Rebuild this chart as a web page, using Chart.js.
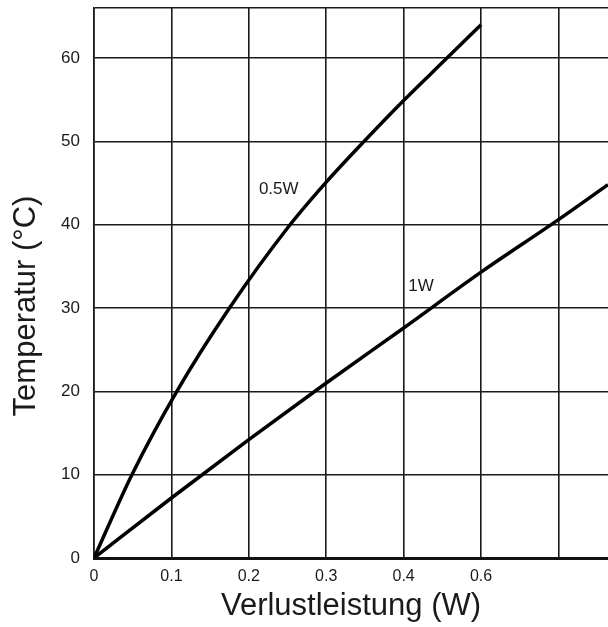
<!DOCTYPE html>
<html>
<head>
<meta charset="utf-8">
<script src="https://cdn.jsdelivr.net/npm/chart.js@4/dist/chart.umd.min.js"></script>
<style>
  html, body { margin: 0; padding: 0; background: #fff; overflow: hidden; }
  #wrap { width: 608px; height: 627px; }
</style>
</head>
<body>
<div id="wrap"><canvas id="tempChart" width="608" height="627"></canvas></div>
<script>
// ===== DATA =====
const xTickLabels = ["0", "0.1", "0.2", "0.3", "0.4", "0.6", "", ""];
const yTickLabels = ["0", "10", "20", "30", "40", "50", "60"];

// 0.5W curve
const halfWattX = [0, 0.049, 0.107, 0.175, 0.25, 0.3, 0.35, 0.4, 0.455, 0.5];
const halfWattT = [0, 10, 20, 30, 39.6, 45.1, 50.1, 54.9, 59.9, 64];

// 1W curve
const oneWattX = [0, 0.1, 0.2, 0.3, 0.4, 0.5, 0.6, 0.664];
const oneWattT = [0, 7.2, 14.2, 21, 27.6, 34.3, 40.6, 44.8];

const curveNames = ["0.5W", "1W"];
const curveLabelX = [0.213, 0.406];
const curveLabelY = [44.2, 32.6];

const FONT = "'Liberation Sans', Arial, Helvetica, sans-serif";
const INK = "#1a1a1a";

function toPoints(xs, ys) {
  return xs.map((x, i) => ({ x: x, y: ys[i] }));
}

// curve names + rotated y title drawn on top of the chart
const annotate = {
  id: "annotate",
  afterDraw(chart) {
    const ctx = chart.ctx;
    const sx = chart.scales.x, sy = chart.scales.y;
    ctx.save();
    ctx.fillStyle = INK;
    ctx.font = "17px " + FONT;
    ctx.textAlign = "left";
    ctx.textBaseline = "middle";
    curveNames.forEach((name, i) => {
      ctx.fillText(name, sx.getPixelForValue(curveLabelX[i]), sy.getPixelForValue(curveLabelY[i]));
    });
    ctx.translate(26, 306);
    ctx.rotate(-Math.PI / 2);
    ctx.textAlign = "center";
    ctx.font = "31px " + FONT;
    ctx.fillText("Temperatur (°C)", 0, 0);
    ctx.restore();
  }
};

new Chart(document.getElementById("tempChart"), {
  type: "line",
  data: {
    datasets: [
      {
        data: toPoints(halfWattX, halfWattT),
        borderColor: "#000",
        borderWidth: 3.5,
        pointRadius: 0,
        cubicInterpolationMode: "monotone",
        fill: false
      },
      {
        data: toPoints(oneWattX, oneWattT),
        borderColor: "#000",
        borderWidth: 3.5,
        pointRadius: 0,
        cubicInterpolationMode: "monotone",
        fill: false
      }
    ]
  },
  options: {
    responsive: false,
    animation: false,
    layout: { padding: { top: 8, right: 0, bottom: 0, left: 0 } },
    plugins: {
      legend: { display: false },
      tooltip: { enabled: false }
    },
    scales: {
      x: {
        type: "linear",
        min: 0,
        max: 0.664,
        afterFit: s => { s.height = 69; s.paddingLeft = 0; s.paddingRight = 0; },
        grid: { color: "#1a1a1a", lineWidth: 1.6, drawTicks: false },
        border: { color: "#111", width: 3 },
        ticks: {
          stepSize: 0.1,
          includeBounds: false,
          autoSkip: false,
          maxRotation: 0,
          padding: 9,
          color: INK,
          font: { family: FONT, size: 16 },
          callback: (v, i) => xTickLabels[i] ?? ""
        },
        title: {
          display: true,
          text: "Verlustleistung (W)",
          color: INK,
          font: { family: FONT, size: 31, lineHeight: 1.2 },
          padding: { top: 0, bottom: 2 }
        }
      },
      y: {
        min: 0,
        max: 66,
        afterFit: s => { s.width = 94; s.paddingTop = 0; s.paddingBottom = 0; },
        grid: { color: "#1a1a1a", lineWidth: 1.6, drawTicks: false },
        border: { color: "#1a1a1a", width: 1.6 },
        ticks: {
          stepSize: 10,
          padding: 14,
          color: INK,
          font: { family: FONT, size: 17 },
          callback: (v, i) => (v % 10 === 0 ? yTickLabels[v / 10] : "")
        }
      }
    }
  },
  plugins: [annotate]
});
</script>
</body>
</html>
